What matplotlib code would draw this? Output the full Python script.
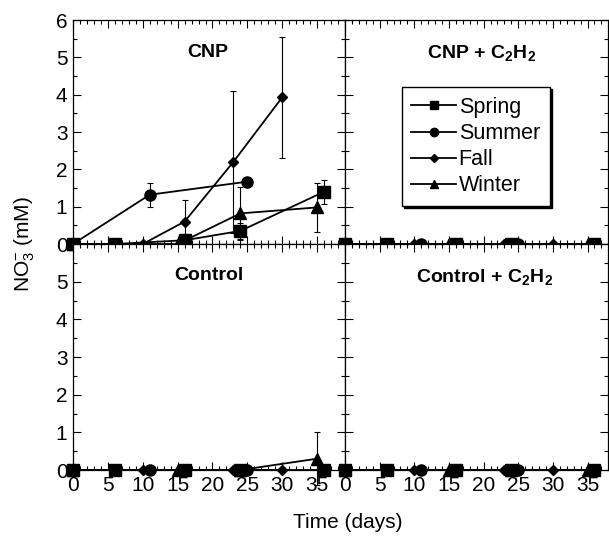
import matplotlib
matplotlib.use('Agg')
import matplotlib.pyplot as plt
from matplotlib.ticker import MultipleLocator
import numpy as np

plt.rcParams['font.family'] = ['Liberation Sans', 'DejaVu Sans']
plt.rcParams['mathtext.fontset'] = 'custom'
plt.rcParams['mathtext.rm'] = 'Liberation Sans'
plt.rcParams['mathtext.bf'] = 'Liberation Sans:bold'
plt.rcParams['mathtext.it'] = 'Liberation Sans:italic'

# ---------------- data ----------------
seasons = ['Spring', 'Summer', 'Fall', 'Winter']
markers = {'Spring': 's', 'Summer': 'o', 'Fall': 'D', 'Winter': '^'}
msizes = {'Spring': 8.0, 'Summer': 8.0, 'Fall': 5.6, 'Winter': 8.0}

days_spring = [0, 6, 16, 24, 36]
days_summer = [0, 11, 25]
days_fall = [0, 10, 16, 23, 30]
days_winter = [0, 15, 24, 35]

# CNP
cnp_spring = [0, 0, 0.1, 0.35, 1.4]
cnp_spring_err = [0, 0, 0.08, 0.22, 0.32]
cnp_summer = [0, 1.32, 1.67]
cnp_summer_err = [0, 0.32, 0]
cnp_fall = [0, 0, 0.6, 2.2, 3.93]
cnp_fall_err = [0, 0, 0.58, 1.9, 1.62]
cnp_winter = [0, 0, 0.82, 0.98]
cnp_winter_err = [0, 0, 0.7, 0.65]

# CNP + C2H2
cnpa_spring = [0, 0, 0, 0, 0]
cnpa_summer = [0, 0, 0]
cnpa_fall = [0, 0, 0, 0, 0]
cnpa_winter = [0, 0, 0, 0]

# Control
ctl_spring = [0, 0, 0, 0, 0]
ctl_summer = [0, 0, 0]
ctl_fall = [0, 0, 0, 0, 0]
ctl_winter = [0, 0, 0, 0.3]
ctl_winter_err = [0, 0, 0, 0.7]

# Control + C2H2
ctla_spring = [0, 0, 0, 0, 0]
ctla_summer = [0, 0, 0]
ctla_fall = [0, 0, 0, 0, 0]
ctla_winter = [0, 0, 0, 0]

zeros = lambda v: [0] * len(v)

panels = {
    'CNP': {
        'Spring': (days_spring, cnp_spring, cnp_spring_err),
        'Summer': (days_summer, cnp_summer, cnp_summer_err),
        'Fall': (days_fall, cnp_fall, cnp_fall_err),
        'Winter': (days_winter, cnp_winter, cnp_winter_err),
    },
    'CNP + C$_\\mathbf{2}$H$_\\mathbf{2}$': {
        'Spring': (days_spring, cnpa_spring, zeros(cnpa_spring)),
        'Summer': (days_summer, cnpa_summer, zeros(cnpa_summer)),
        'Fall': (days_fall, cnpa_fall, zeros(cnpa_fall)),
        'Winter': (days_winter, cnpa_winter, zeros(cnpa_winter)),
    },
    'Control': {
        'Spring': (days_spring, ctl_spring, zeros(ctl_spring)),
        'Summer': (days_summer, ctl_summer, zeros(ctl_summer)),
        'Fall': (days_fall, ctl_fall, zeros(ctl_fall)),
        'Winter': (days_winter, ctl_winter, ctl_winter_err),
    },
    'Control + C$_\\mathbf{2}$H$_\\mathbf{2}$': {
        'Spring': (days_spring, ctla_spring, zeros(ctla_spring)),
        'Summer': (days_summer, ctla_summer, zeros(ctla_summer)),
        'Fall': (days_fall, ctla_fall, zeros(ctla_fall)),
        'Winter': (days_winter, ctla_winter, zeros(ctla_winter)),
    },
}

# ---------------- figure ----------------
W, H = 609, 536
fig = plt.figure(figsize=(W / 100, H / 100), dpi=100)


def ax_at(x0, y0, x1, y1):
    return fig.add_axes([x0 / W, 1 - y1 / H, (x1 - x0) / W, (y1 - y0) / H])


ax_tl = ax_at(73, 20, 345, 244)
ax_tr = ax_at(345, 20, 608, 244)
ax_bl = ax_at(73, 244, 345, 470)
ax_br = ax_at(345, 244, 608, 470)
axes = [ax_tl, ax_tr, ax_bl, ax_br]
titles = list(panels.keys())
title_pos = [(0.494, 0.855), (0.52, 0.852), (0.50, 0.862), (0.53, 0.855)]
xmax = [39, 37.95, 39, 37.95]

for i, (ax, title) in enumerate(zip(axes, titles)):
    for s in seasons:
        d, v, e = panels[title][s]
        ax.plot(d, v, color='black', lw=1.3, marker=markers[s],
                ms=msizes[s], mfc='black', mec='black', clip_on=False,
                zorder=3, label=s)
        dd = [x for x, err in zip(d, e) if err > 0]
        vv = [y for y, err in zip(v, e) if err > 0]
        ee = [err for err in e if err > 0]
        if dd:
            ax.errorbar(dd, vv, yerr=ee, fmt='none', ecolor='black',
                        elinewidth=0.8, capsize=2.3, capthick=0.8,
                        clip_on=False, zorder=2)
    ax.set_xlim(0, xmax[i])
    ax.set_ylim(0, 6)
    ax.xaxis.set_major_locator(MultipleLocator(5))
    ax.xaxis.set_minor_locator(MultipleLocator(1))
    ax.yaxis.set_major_locator(MultipleLocator(1))
    ax.yaxis.set_minor_locator(MultipleLocator(0.5))
    ax.tick_params(which='both', direction='in', top=True, right=True,
                   labelsize=15, width=0.8, colors='black')
    ax.tick_params(which='major', length=6)
    ax.tick_params(which='minor', length=3)
    ax.tick_params(axis='x', pad=4)
    ax.tick_params(axis='y', pad=4)
    for sp in ax.spines.values():
        sp.set_linewidth(0.9)
    ax.text(title_pos[i][0], title_pos[i][1], title, transform=ax.transAxes,
            ha='center', va='center', fontsize=14, fontweight='bold')

# tick labels
ax_tl.set_yticks([0, 1, 2, 3, 4, 5, 6])
ax_tl.tick_params(labelbottom=False)
ax_tr.tick_params(labelbottom=False, labelleft=False)
ax_bl.set_yticks([0, 1, 2, 3, 4, 5, 6])
ax_bl.set_yticklabels(['0', '1', '2', '3', '4', '5', ''])
ax_br.tick_params(labelleft=False)
for ax in (ax_bl, ax_br):
    ax.set_xticks([0, 5, 10, 15, 20, 25, 30, 35])

# legend
handles, labels = ax_tr.get_legend_handles_labels()
leg = ax_tr.legend(handles, labels, loc='upper left',
                   bbox_to_anchor=(0.215, 0.70), fontsize=15.5,
                   frameon=True, fancybox=False, edgecolor='black',
                   framealpha=1, handlelength=2.1, handletextpad=0.1,
                   labelspacing=0.24, borderpad=0.45, borderaxespad=0,
                   shadow={'color': 'black', 'alpha': 1, 'ox': 1.5, 'oy': -1.5},
                   markerscale=0.75)
leg.get_frame().set_linewidth(1.0)

fig.text(25 / W, 1 - 244 / H, 'NO$_3^{-}$ (mM)', rotation=90,
         ha='center', va='center', fontsize=15)
fig.text(348 / W, 1 - 522 / H, 'Time (days)', ha='center', va='center',
         fontsize=15)

fig.savefig('out.png', dpi=100)
